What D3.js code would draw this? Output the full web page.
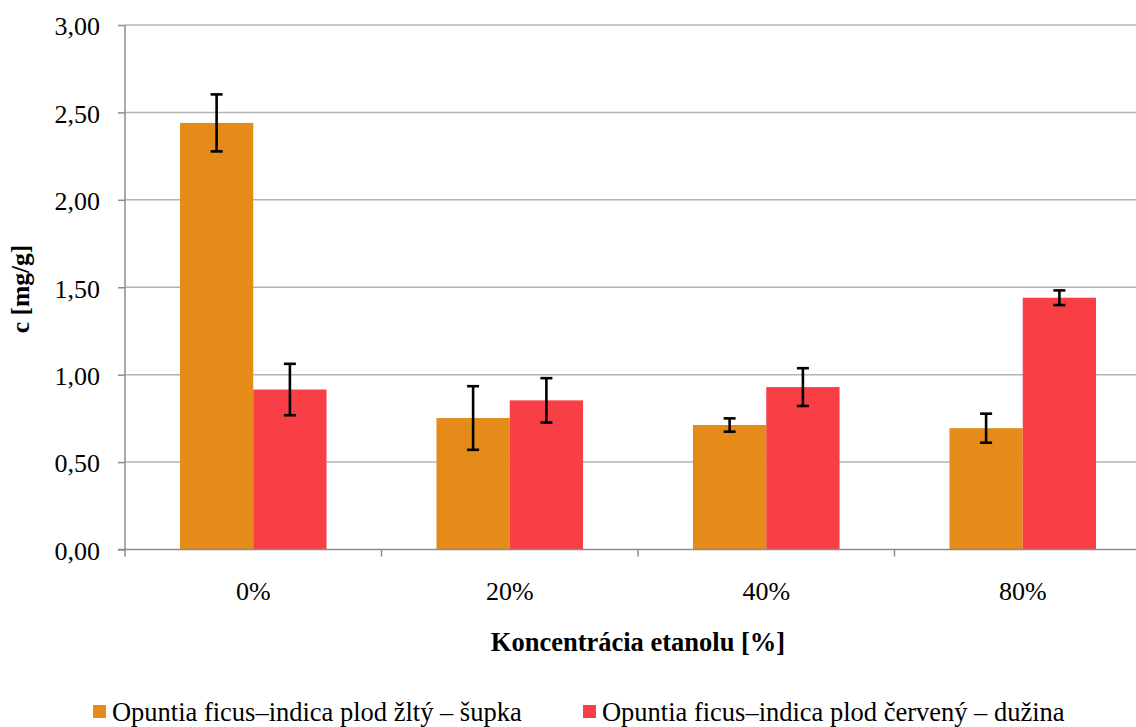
<!DOCTYPE html>
<html><head><meta charset="utf-8">
<script src="https://cdn.jsdelivr.net/npm/d3@7"></script>
<style>body{margin:0;background:#fff}svg{display:block}</style>
</head><body><svg id="c" width="1136" height="727"></svg>
<script>
const categories = ["0%", "20%", "40%", "80%"];
const seriesNames = ["Opuntia ficus–indica plod žltý – šupka", "Opuntia ficus–indica plod červený – dužina"];
const yellowValues = [2.44, 0.752, 0.712, 0.694];
const yellowErrors = [0.163, 0.182, 0.038, 0.083];
const redValues = [0.915, 0.853, 0.929, 1.44];
const redErrors = [0.147, 0.127, 0.108, 0.042];
const yTicks = [0, 0.5, 1, 1.5, 2, 2.5, 3];
const colors = ["#E48B1A", "#F83F46"];

(function(){
const FONT = "Liberation Serif, Times New Roman, serif";
const svg = d3.select("#c");
const pL = 125, pR = 1151, pT = 25, pB = 549.5;
const x = d3.scaleBand().domain(categories).range([pL, pR]);
const inner = d3.scaleBand().domain([0, 1]).range([0, x.bandwidth()]).paddingOuter(0.75).paddingInner(0);
const y = d3.scaleLinear().domain([0, 3]).range([pB, pT]);
const fmt = v => d3.format(".2f")(v).replace(".", ",");

svg.append("g").selectAll("line").data(yTicks.slice(1)).join("line")
  .attr("x1", pL).attr("x2", 1136).attr("y1", d => y(d)).attr("y2", d => y(d))
  .attr("stroke", "#b4b4b4").attr("stroke-width", 1.5);

const series = [
  {vals: yellowValues, errs: yellowErrors},
  {vals: redValues, errs: redErrors}
];
series.forEach((s, i) => {
  svg.append("g").selectAll("rect").data(categories).join("rect")
    .attr("x", c => x(c) + inner(i)).attr("width", inner.bandwidth())
    .attr("y", (c, j) => y(s.vals[j])).attr("height", (c, j) => pB - y(s.vals[j]))
    .attr("fill", colors[i]);
});

const yAxis = d3.axisLeft(y).tickValues(yTicks).tickFormat(fmt).tickSize(7).tickPadding(18);
const ga = svg.append("g").attr("transform", `translate(${pL},0)`).call(yAxis)
  .attr("font-family", FONT).attr("font-size", 26);
ga.select(".domain").attr("stroke", "#8c8c8c").attr("stroke-width", 1.5).attr("d", `M0,${pT}V${pB}`);
ga.selectAll(".tick line").attr("stroke", "#8c8c8c").attr("stroke-width", 1.5);
ga.selectAll(".tick text").attr("fill", "#000").attr("dy", "0.38em");

const xb = svg.append("g").attr("transform", `translate(0,${pB})`);
xb.append("line").attr("x1", pL - 7).attr("x2", 1136).attr("stroke", "#8c8c8c").attr("stroke-width", 1.5);
const xt = [pL].concat(categories.map(c => x(c) + x.bandwidth()));
xb.selectAll("line.t").data(xt).join("line").attr("class", "t")
  .attr("x1", d => d).attr("x2", d => d).attr("y1", 0).attr("y2", 7)
  .attr("stroke", "#8c8c8c").attr("stroke-width", 1.5);
xb.selectAll("text").data(categories).join("text")
  .attr("x", c => x(c) + x.bandwidth() / 2).attr("y", 50.5)
  .attr("font-family", FONT)
  .attr("text-anchor", "middle").attr("font-size", 26).text(c => c);

series.forEach((s, i) => {
  const g = svg.append("g").attr("stroke", "#000").attr("stroke-width", 2.6);
  categories.forEach((c, j) => {
    const cx = x(c) + inner(i) + inner.bandwidth() / 2;
    const hi = y(s.vals[j] + s.errs[j]), lo = y(s.vals[j] - s.errs[j]);
    g.append("line").attr("x1", cx).attr("x2", cx).attr("y1", hi).attr("y2", lo);
    g.append("line").attr("x1", cx - 6).attr("x2", cx + 6).attr("y1", hi).attr("y2", hi);
    g.append("line").attr("x1", cx - 6).attr("x2", cx + 6).attr("y1", lo).attr("y2", lo);
  });
});

svg.append("text").attr("transform", "translate(28.5,289) rotate(-90)")
  .attr("font-family", FONT)
  .attr("text-anchor", "middle").attr("font-size", 25.5).attr("font-weight", "bold").text("c [mg/g]");
svg.append("text").attr("x", 638).attr("y", 651).attr("font-family", FONT)
  .attr("text-anchor", "middle").attr("font-size", 26.5).attr("font-weight", "bold").text("Koncentrácia etanolu [%]");

const legX = [93, 583];
seriesNames.forEach((n, i) => {
  svg.append("rect").attr("x", legX[i]).attr("y", 705).attr("width", 13).attr("height", 13).attr("fill", colors[i]);
  svg.append("text").attr("transform", `translate(${legX[i] + 19},721) scale(1,1.04)`)
    .attr("font-family", FONT).attr("font-size", 26.5).text(n);
});
})();
</script></body></html>
